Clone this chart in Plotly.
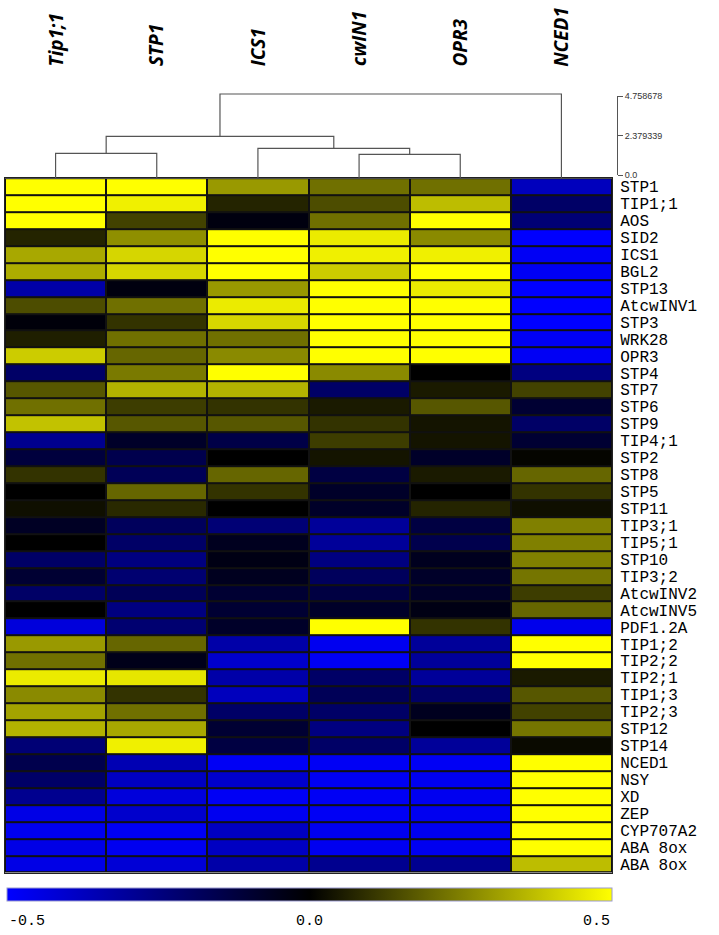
import plotly.graph_objects as go

W, H = 719, 935

col_labels = ["Tip1;1", "STP1", "ICS1", "cwIN1", "OPR3", "NCED1"]

row_labels = [
"STP1", "TIP1;1", "AOS", "SID2", "ICS1", "BGL2", "STP13", "AtcwINV1", "STP3",
"WRK28", "OPR3", "STP4", "STP7", "STP6", "STP9", "TIP4;1", "STP2", "STP8",
"STP5", "STP11", "TIP3;1", "TIP5;1", "STP10", "TIP3;2", "AtcwINV2", "AtcwINV5",
"PDF1.2A", "TIP1;2", "TIP2;2", "TIP2;1", "TIP1;3", "TIP2;3", "STP12", "STP14",
"NCED1", "NSY", "XD", "ZEP", "CYP707A2", "ABA 8ox", "ABA 8ox"
]

# one list per row: Tip1;1, STP1, ICS1, cwIN1, OPR3, NCED1
values = [
[0.50, 0.50, 0.30, 0.22, 0.22, -0.37],
[0.50, 0.47, 0.07, 0.15, 0.37, -0.20],
[0.50, 0.13, -0.03, 0.22, 0.50, -0.23],
[0.07, 0.28, 0.50, 0.46, 0.27, -0.50],
[0.33, 0.42, 0.50, 0.47, 0.47, -0.48],
[0.34, 0.42, 0.50, 0.40, 0.50, -0.48],
[-0.33, -0.03, 0.30, 0.50, 0.46, -0.50],
[0.15, 0.22, 0.46, 0.50, 0.50, -0.50],
[-0.02, 0.10, 0.42, 0.50, 0.50, -0.50],
[0.06, 0.22, 0.22, 0.50, 0.50, -0.48],
[0.40, 0.20, 0.27, 0.50, 0.50, -0.48],
[-0.20, 0.24, 0.50, 0.27, 0.00, -0.25],
[0.17, 0.35, 0.35, -0.20, 0.05, 0.13],
[0.22, 0.12, 0.10, 0.05, 0.17, -0.10],
[0.38, 0.17, 0.17, 0.10, 0.04, -0.20],
[-0.28, -0.08, -0.14, 0.12, 0.04, -0.10],
[-0.12, -0.15, 0.00, 0.04, -0.08, 0.01],
[0.10, -0.17, 0.20, -0.13, 0.05, 0.20],
[0.00, 0.20, 0.10, -0.08, 0.00, 0.10],
[0.03, 0.08, 0.00, -0.08, 0.07, 0.03],
[-0.07, -0.18, -0.23, -0.30, -0.13, 0.25],
[0.00, -0.20, -0.06, -0.30, -0.15, 0.25],
[-0.20, -0.25, -0.04, -0.25, -0.06, 0.25],
[-0.10, -0.22, -0.06, -0.18, -0.08, 0.23],
[-0.20, -0.17, -0.10, -0.13, -0.08, 0.12],
[0.00, -0.25, -0.10, -0.08, -0.04, 0.20],
[-0.43, -0.22, -0.08, 0.50, 0.10, -0.46],
[0.30, 0.20, -0.33, -0.47, -0.30, 0.50],
[0.22, -0.05, -0.40, -0.48, -0.30, 0.50],
[0.46, 0.45, -0.33, -0.20, -0.30, 0.05],
[0.27, 0.10, -0.37, -0.17, -0.20, 0.17],
[0.32, 0.22, -0.20, -0.20, -0.06, 0.13],
[0.35, 0.33, -0.10, -0.25, 0.00, 0.23],
[-0.23, 0.47, -0.13, -0.20, -0.30, 0.02],
[-0.15, -0.35, -0.48, -0.48, -0.48, 0.50],
[-0.20, -0.38, -0.40, -0.48, -0.47, 0.50],
[-0.28, -0.43, -0.48, -0.48, -0.47, 0.50],
[-0.45, -0.40, -0.47, -0.48, -0.47, 0.50],
[-0.47, -0.48, -0.38, -0.47, -0.47, 0.50],
[-0.45, -0.47, -0.38, -0.47, -0.47, 0.50],
[-0.45, -0.42, -0.33, -0.28, -0.28, 0.37],
]

# column clustering: (left node, right node, height); leaves are 0..5
merges = [
(0, 1, 1.31),
(3, 4, 1.25),
(2, 7, 1.61),
(6, 8, 2.33),
(9, 5, 4.88),
]
dendro_max = 4.758678
dendro_ticks = [0.0, 2.379339, 4.758678]
dendro_ticktext = ["0.0", "2.379339", "4.758678"]

cbar_ticks = [-0.5, 0.0, 0.5]
cbar_ticktext = ["-0.5", "0.0", "0.5"]


def px_x(p):
    return p / W

def px_y(p):
    return 1 - p / H


colorscale = [[0.0, "rgb(0,0,255)"], [0.5, "rgb(0,0,0)"], [1.0, "rgb(255,255,0)"]]

fig = go.Figure()

fig.add_trace(go.Heatmap(
    z=values,
    x=list(range(len(col_labels))),
    y=list(range(len(row_labels))),
    zmin=-0.5, zmax=0.5,
    colorscale=colorscale,
    xgap=2, ygap=2,
    hoverinfo="skip",
    colorbar=dict(
        orientation="h",
        lenmode="pixels", len=605,
        thicknessmode="pixels", thickness=13,
        x=px_x(309.5), xanchor="center",
        y=px_y(893), yanchor="top",
        xpad=0, ypad=0,
        outlinewidth=1, outlinecolor="#9a9ad0",
        showticklabels=False, ticks="",
    ),
))

# dendrogram built from the merge table
dendro_bottom = -0.178
node_x = {i: float(i) for i in range(len(col_labels))}
node_h = {i: dendro_bottom for i in range(len(col_labels))}
nid = len(col_labels)
for a, b, h in merges:
    xs = [node_x[a], node_x[a], node_x[b], node_x[b]]
    ys = [node_h[a], h, h, node_h[b]]
    fig.add_trace(go.Scatter(
        x=xs, y=ys, mode="lines", xaxis="x2", yaxis="y2",
        line=dict(color="#555555", width=1.2), hoverinfo="skip", showlegend=False,
    ))
    node_x[nid] = (node_x[a] + node_x[b]) / 2
    node_h[nid] = h
    nid += 1

# invisible trace so the dendrogram scale axis gets drawn
fig.add_trace(go.Scatter(
    x=[0, 0], y=[0, dendro_max], mode="markers", xaxis="x2", yaxis="y3",
    marker=dict(opacity=0), hoverinfo="skip", showlegend=False,
))

heat_dom_x = [px_x(5), px_x(612)]

fig.update_layout(
    width=W, height=H,
    margin=dict(l=0, r=0, t=0, b=0),
    paper_bgcolor="white",
    plot_bgcolor="rgba(0,0,0,0)",
    showlegend=False,
    xaxis=dict(domain=heat_dom_x, range=[-0.5, 5.5], showticklabels=False,
               showgrid=False, zeroline=False, ticks="",
               showline=True, mirror=True, linecolor="#222222", linewidth=1),
    yaxis=dict(domain=[px_y(877), px_y(175)], range=[len(row_labels) - 0.5, -0.5],
               side="right", tickmode="array",
               tickvals=list(range(len(row_labels))), ticktext=row_labels,
               tickfont=dict(family="Liberation Mono", size=16, color="black"),
               ticks="", ticklen=0, ticklabelstandoff=4,
               showgrid=False, zeroline=False,
               showline=True, mirror=True, linecolor="#222222", linewidth=1),
    xaxis2=dict(domain=heat_dom_x, range=[-0.5, 5.5], anchor="y2",
                visible=False),
    yaxis2=dict(domain=[px_y(175), px_y(88)], range=[dendro_bottom, 4.996],
                anchor="x2", visible=False),
    yaxis3=dict(domain=[px_y(172), px_y(92)], range=[0, dendro_max],
                anchor="free", position=px_x(617), side="right",
                showline=True, linecolor="#555555", linewidth=1,
                ticks="outside", ticklen=5, tickcolor="#555555",
                tickmode="array", tickvals=dendro_ticks, ticktext=dendro_ticktext,
                tickfont=dict(family="Liberation Sans", size=9, color="#333333"),
                showgrid=False, zeroline=False),
)
# dark backing behind the heatmap so the cell gaps read as borders
fig.add_shape(type="rect", xref="x domain", yref="y domain", x0=0, x1=1, y0=0, y1=1,
              fillcolor="#111111", line=dict(width=0), layer="below")

annotations = []
for i, lab in enumerate(col_labels):
    annotations.append(dict(
        x=i, xref="x", y=px_y(64), yref="paper",
        text="<b><i>" + lab + "</i></b>", textangle=-90,
        xanchor="center", yanchor="bottom", showarrow=False,
        font=dict(family="Open Sans", size=19, color="black"),
    ))

anchors = ["left", "center", "right"]
cb_left, cb_right = 7, 612
for v, t, anc in zip(cbar_ticks, cbar_ticktext, anchors):
    pos = cb_left + (v - cbar_ticks[0]) / (cbar_ticks[-1] - cbar_ticks[0]) * (cb_right - cb_left)
    annotations.append(dict(
        x=px_x(pos), xref="paper", y=px_y(926), yref="paper",
        text=t, xanchor=anc, yanchor="middle", showarrow=False,
        font=dict(family="Liberation Mono", size=15, color="black"),
    ))

fig.update_layout(annotations=annotations)

# drop the default page margin so the figure sits at the window's corner
fig.write_html("out.html", config={"displayModeBar": False},
               post_script="document.body.style.margin='0';")
